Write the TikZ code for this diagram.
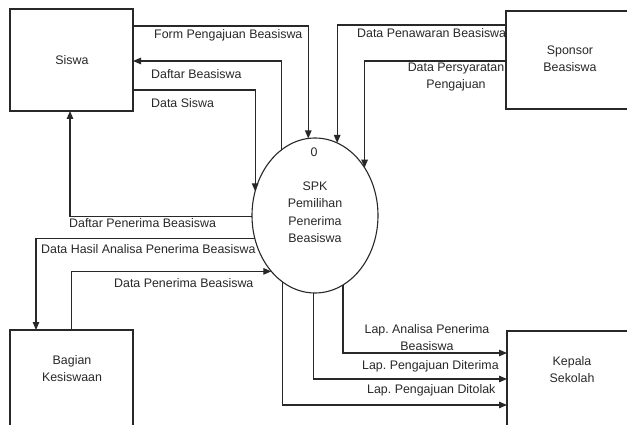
\documentclass[tikz,border=0pt]{standalone}
\usepackage{fontspec}
\setmainfont{Liberation Sans}
\usetikzlibrary{arrows.meta,shapes.geometric}
\definecolor{ink}{RGB}{40,40,40}
\frenchspacing
\tikzset{
  entity/.style={draw=ink, line width=1.2pt, rectangle, inner sep=0pt, outer sep=0pt},
  process/.style={draw=ink, line width=1.1pt, ellipse, inner sep=0pt, outer sep=0pt,
    minimum width=126pt, minimum height=155pt},
  flow/.style={draw=ink, line width=1.2pt, -{Triangle[length=8pt,width=6.5pt]}},
  txt/.style={text=ink, inner sep=0pt, font=\fontsize{12.4}{17}\selectfont, align=center},
  lbl/.style={txt, anchor=west},
}
\begin{document}
\begin{tikzpicture}[x=1pt,y=-1pt]
  \fill[white] (0,0) rectangle (627,425);
  \clip (0,0) rectangle (627,425);

  % external entities
  \node[entity, minimum width=123pt, minimum height=102pt] (siswa) at (71.5,60) {};
  \node[txt] (siswaT) at (72,60) {Siswa};
  \node[entity, minimum width=128pt, minimum height=98pt] (sponsor) at (570,60) {};
  \node[txt] (sponsorT) at (570,59) {Sponsor\\Beasiswa};
  \node[entity, anchor=north west, minimum width=123pt, minimum height=110pt] (bagian) at (10,330) {};
  \node[txt] (bagianT) at (72,369) {Bagian\\Kesiswaan};
  \node[entity, anchor=north west, minimum width=130pt, minimum height=110pt] (kepala) at (507,331) {};
  \node[txt] (kepalaT) at (572,370) {Kepala\\Sekolah};

  % process
  \node[process] (spk) at (315,215.5) {};
  \node[txt] (spkNo) at (314,152) {0};
  \node[txt, font=\fontsize{12.4}{17.5}\selectfont] (spkT) at (315,212) {SPK\\Pemilihan\\Penerima\\Beasiswa};

  % data flows: Siswa
  \draw[flow] (siswa.east |- 0,26) -| (spk.95.9);
  \draw[flow] (spk.117.5) |- (siswa.east |- 0,61);
  \draw[flow] (siswa.east |- 0,90) -| (spk.158.5);
  \node[lbl] (l1) at (154,35) {Form Pengajuan Beasiswa};
  \node[lbl] (l2) at (151,74) {Daftar Beasiswa};
  \node[lbl] (l3) at (151,103) {Data Siswa};

  % data flows: Sponsor
  \draw[flow] (sponsor.west |- 0,25) -| (spk.73.1);
  \draw[flow] (sponsor.west |- 0,61) -| (spk.44.8);
  \node[lbl] (l4) at (357,33) {Data Penawaran Beasiswa};
  \node[txt] (l5) at (456,77.5) {Data Persyaratan\\Pengajuan};

  % data flows: Siswa / Bagian Kesiswaan
  \draw[flow] (spk.181.4) -| (siswa.south -| 70,0);
  \draw[flow] (spk.201.4) -| (bagian.north -| 36,0);
  \draw[flow] (bagian.north) |- (spk.232.7);
  \node[lbl] (l6) at (69,223) {Daftar Penerima Beasiswa};
  \node[lbl] (l7) at (41,249) {Data Hasil Analisa Penerima Beasiswa};
  \node[lbl] (l8) at (114,283) {Data Penerima Beasiswa};

  % data flows: Kepala Sekolah
  \draw[flow] (spk.292) |- (kepala.west |- 0,353);
  \draw[flow] (spk.269.3) |- (kepala.west |- 0,379);
  \draw[flow] (spk.244.4) |- (kepala.west |- 0,405);
  \node[txt] (l9) at (427,338) {Lap. Analisa Penerima\\Beasiswa};
  \node[lbl] (l10) at (362,366) {Lap. Pengajuan Diterima};
  \node[lbl] (l11) at (367,390) {Lap. Pengajuan Ditolak};
\end{tikzpicture}
\end{document}
